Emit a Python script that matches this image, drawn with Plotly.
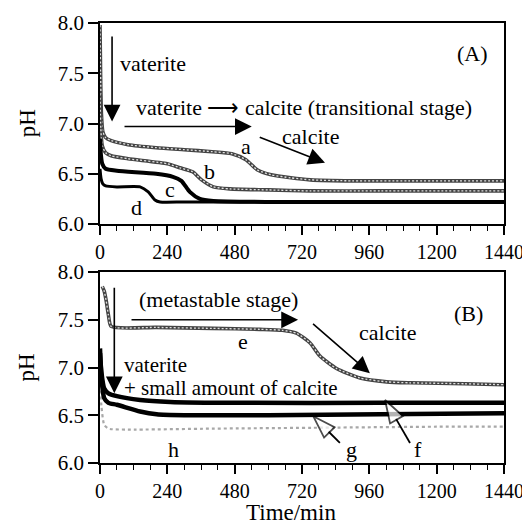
import plotly.graph_objects as go

# ---------------- data ----------------
# Panel A
a_t = [0, 2, 5, 10, 20, 40, 100, 200, 300, 400, 470, 520, 560, 610, 680, 750, 900, 1100, 1440]
a_ph = [7.98, 7.5, 7.1, 6.92, 6.86, 6.83, 6.79, 6.76, 6.74, 6.72, 6.70, 6.64, 6.54, 6.49, 6.46, 6.44, 6.43, 6.43, 6.43]
b_t = [0, 3, 8, 20, 40, 100, 240, 285, 330, 362, 404, 463, 600, 750, 1000, 1440]
b_ph = [7.3, 6.95, 6.78, 6.71, 6.68, 6.65, 6.60, 6.56, 6.52, 6.44, 6.37, 6.35, 6.34, 6.33, 6.33, 6.33]
c_t = [0, 3, 8, 20, 60, 200, 260, 290, 320, 356, 404, 600, 1000, 1440]
c_ph = [6.85, 6.7, 6.6, 6.55, 6.53, 6.50, 6.47, 6.43, 6.32, 6.25, 6.23, 6.22, 6.22, 6.22]
d_t = [0, 4, 10, 20, 60, 143, 172, 196, 214, 300, 600, 1000, 1440]
d_ph = [6.55, 6.45, 6.40, 6.38, 6.37, 6.37, 6.32, 6.24, 6.22, 6.22, 6.22, 6.22, 6.22]

# Panel B
e_t = [8, 15, 22, 30, 40, 200, 400, 570, 650, 700, 748, 784, 843, 927, 1022, 1105, 1300, 1440]
e_ph = [7.85, 7.8, 7.7, 7.55, 7.43, 7.42, 7.41, 7.40, 7.39, 7.36, 7.26, 7.12, 6.99, 6.89, 6.85, 6.84, 6.83, 6.82]
f_t = [0, 5, 15, 30, 60, 143, 250, 500, 1000, 1440]
f_ph = [7.15, 6.95, 6.78, 6.73, 6.70, 6.66, 6.64, 6.63, 6.63, 6.63]
g_t = [0, 5, 15, 30, 60, 143, 202, 300, 600, 1000, 1440]
g_ph = [7.2, 6.9, 6.68, 6.63, 6.61, 6.54, 6.51, 6.50, 6.50, 6.51, 6.52]
h_t = [0, 5, 15, 30, 100, 400, 800, 1200, 1440]
h_ph = [6.95, 6.6, 6.40, 6.36, 6.35, 6.36, 6.37, 6.38, 6.38]

x_ticks = [0, 240, 480, 720, 960, 1200, 1440]
y_ticks = [6.0, 6.5, 7.0, 7.5, 8.0]

FONT = "Liberation Serif, Times New Roman, Times, serif"

fig = go.Figure()

def braided(t, ph, xa, ya):
    fig.add_trace(go.Scatter(x=t, y=ph, mode="lines", xaxis=xa, yaxis=ya,
                             line=dict(color="#444444", width=3.6, shape="spline", smoothing=0.6),
                             showlegend=False, hoverinfo="skip"))
    fig.add_trace(go.Scatter(x=t, y=ph, mode="lines", xaxis=xa, yaxis=ya,
                             line=dict(color="#e0e0e0", width=1.3, dash="2px,2px", shape="spline", smoothing=0.6),
                             showlegend=False, hoverinfo="skip"))

def solid(t, ph, xa, ya, w):
    fig.add_trace(go.Scatter(x=t, y=ph, mode="lines", xaxis=xa, yaxis=ya,
                             line=dict(color="black", width=w, shape="spline", smoothing=0.6),
                             showlegend=False, hoverinfo="skip"))

# Panel A
braided(a_t, a_ph, "x", "y")
braided(b_t, b_ph, "x", "y")
solid(c_t, c_ph, "x", "y", 4)
solid(d_t, d_ph, "x", "y", 3)

# Panel B
fig.add_trace(go.Scatter(x=h_t, y=h_ph, mode="lines", xaxis="x2", yaxis="y2",
                         line=dict(color="#a8a8a8", width=2.2, dash="dot", shape="spline", smoothing=0.6),
                         showlegend=False, hoverinfo="skip"))
braided(e_t, e_ph, "x2", "y2")
solid(f_t, f_ph, "x2", "y2", 4.5)
solid(g_t, g_ph, "x2", "y2", 4.5)

# open arrows (g, f)
for tail, tip in [((855, 6.21), (760, 6.49)), ((1105, 6.21), (1016, 6.66))]:
    fig.add_trace(go.Scatter(x=[tail[0], tip[0]], y=[tail[1], tip[1]], mode="lines+markers",
                             xaxis="x2", yaxis="y2",
                             line=dict(color="black", width=1.8),
                             marker=dict(symbol=["circle", "arrow"], size=[0, 24], angleref="previous",
                                         color="white", line=dict(color="black", width=1.8)),
                             showlegend=False, hoverinfo="skip"))

axis_common = dict(
    range=[0, 1440], tickvals=x_ticks, ticktext=[str(v) for v in x_ticks],
    ticks="outside", ticklen=9, tickwidth=1.5, tickcolor="black",
    showline=True, linecolor="black", linewidth=1.5, mirror=True,
    showgrid=False, zeroline=False, automargin=False,
    tickfont=dict(family=FONT, size=20, color="black"),
    minor=dict(dtick=60, ticks="outside", ticklen=5, tickwidth=1.2, tickcolor="black", showgrid=False),
)
yaxis_common = dict(
    range=[6.0, 8.0], tickvals=y_ticks, ticktext=["%.1f" % v for v in y_ticks],
    ticks="outside", ticklen=10, tickwidth=1.5, tickcolor="black",
    showline=True, linecolor="black", linewidth=1.5, mirror=True,
    showgrid=False, zeroline=False, automargin=False,
    tickfont=dict(family=FONT, size=21, color="black"),
)

# page body has an 8px default margin: figure is sized to sit in the 530x531 window
fig.update_layout(
    width=522, height=523,
    margin=dict(l=92, r=26, t=15, b=68, autoexpand=False),
    paper_bgcolor="white", plot_bgcolor="white",
    xaxis=dict(domain=[0, 1], anchor="y", **axis_common),
    yaxis=dict(domain=[0.543, 1.0], anchor="x", **yaxis_common),
    xaxis2=dict(domain=[0, 1], anchor="y2", **axis_common),
    yaxis2=dict(domain=[0.0, 0.434], anchor="x2", **yaxis_common),
)

# axis titles
title_font = dict(family=FONT, size=23, color="black")
fig.add_annotation(x=-0.181, y=0.772, xref="paper", yref="paper", text="pH", textangle=-90,
                   showarrow=False, font=title_font, xanchor="center", yanchor="middle")
fig.add_annotation(x=-0.181, y=0.217, xref="paper", yref="paper", text="pH", textangle=-90,
                   showarrow=False, font=title_font, xanchor="center", yanchor="middle")
fig.add_annotation(x=0.473, y=-0.112, xref="paper", yref="paper", text="Time/min",
                   showarrow=False, font=title_font, xanchor="center", yanchor="middle")

tf = dict(family=FONT, size=22, color="black")

def text(x, y, s, xa, ya, anchor="center", size=22):
    fig.add_annotation(x=x, y=y, text=s, xref=xa, yref=ya, showarrow=False,
                       font=dict(family=FONT, size=size, color="black"),
                       xanchor=anchor, yanchor="middle")

def arrow(x0, y0, x1, y1, xa, ya, size=2.1, width=1.6):
    fig.add_annotation(x=x1, y=y1, ax=x0, ay=y0, xref=xa, yref=ya, axref=xa, ayref=ya,
                       text="", showarrow=True, arrowhead=2, arrowsize=size,
                       arrowwidth=width, arrowcolor="black")

# Panel A annotations
text(1326, 7.70, "(A)", "x", "y")
text(64, 7.60, "vaterite", "x", "y", "left")
text(727, 7.16, "vaterite \u27f6 calcite (transitional stage)", "x", "y")
text(752, 6.87, "calcite", "x", "y")
text(520, 6.77, "a", "x", "y")
text(392, 6.52, "b", "x", "y")
text(249, 6.34, "c", "x", "y")
text(131, 6.16, "d", "x", "y")
arrow(43, 7.88, 43, 7.02, "x", "y")
arrow(82, 6.97, 541, 6.97, "x", "y")
arrow(564, 6.87, 802, 6.61, "x", "y")

# Panel B annotations
text(1312, 7.57, "(B)", "x2", "y2")
text(132, 7.71, "(metastable stage)", "x2", "y2", "left")
text(78, 7.03, "vaterite", "x2", "y2", "left", 21)
text(78, 6.79, "+ small amount of calcite", "x2", "y2", "left", 21)
text(1023, 7.37, "calcite", "x2", "y2")
text(510, 7.27, "e", "x2", "y2")
text(898, 6.14, "g", "x2", "y2")
text(1133, 6.14, "f", "x2", "y2")
text(261, 6.14, "h", "x2", "y2")
arrow(51, 7.85, 51, 6.73, "x2", "y2")
arrow(107, 7.50, 706, 7.50, "x2", "y2")
arrow(754, 7.47, 962, 6.94, "x2", "y2")

fig.write_html("out.html")
